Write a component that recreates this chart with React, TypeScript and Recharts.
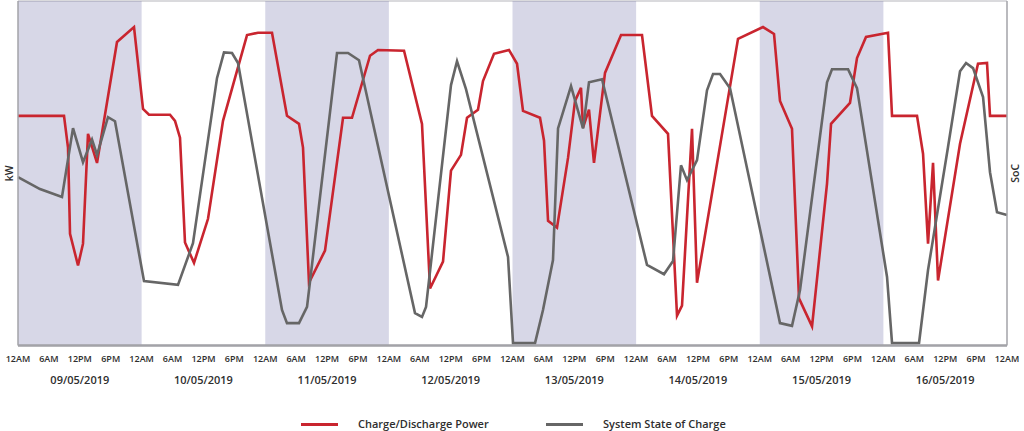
import React from 'react';
import { LineChart, Line, XAxis, YAxis, CartesianGrid, ReferenceArea } from 'recharts';

const dateLabels = ['09/05/2019', '10/05/2019', '11/05/2019', '12/05/2019', '13/05/2019', '14/05/2019', '15/05/2019', '16/05/2019'];
const timeLabels = ['12AM', '6AM', '12PM', '6PM'];
const shadedDays = [0, 2, 4, 6];

// Charge/Discharge Power (kW), hours since 09/05/2019 00:00
const powerHours = [0, 8.93, 9.71, 10.1, 11.65, 12.62, 13.59, 15.34, 19.22, 22.52, 24.27, 25.43, 29.51, 30.48, 31.45, 32.42, 34.17, 36.89, 39.8, 44.46, 46.59, 49.31, 52.22, 54.55, 55.33, 56.49, 59.6, 63.1, 64.84, 68.34, 69.89, 74.94, 78.43, 79.99, 82.51, 84.06, 86.0, 87.17, 89.3, 90.27, 92.41, 95.32, 96.88, 98.04, 101.34, 102.12, 102.9, 104.64, 106.78, 108.14, 109.3, 109.69, 110.85, 111.82, 113.96, 117.07, 121.14, 123.08, 126.19, 127.94, 128.91, 130.85, 131.82, 139.78, 144.63, 146.77, 147.93, 150.26, 151.62, 154.15, 157.06, 157.84, 161.52, 162.88, 164.63, 168.9, 169.68, 174.53, 175.7, 176.67, 177.64, 178.61, 182.88, 186.37, 188.12, 188.7, 192];
const powerKw = [0, 0, -8.3, -30.8, -39.1, -33.4, -4.7, -12.3, 19.3, 23.2, 1.8, 0.3, 0.3, -1.3, -5.7, -33.1, -38.4, -26.9, -1.3, 21.1, 21.7, 21.7, 0, -2.1, -8.3, -43.6, -35.2, -0.5, -0.5, 15.7, 17.2, 17.0, -2.1, -45.1, -38.1, -14.3, -10.2, -0.5, 1.6, 9.1, 16.2, 17.2, 13.6, 1.3, -0.5, -6.5, -27.4, -29.2, -11.0, 3.9, 7.3, -3.1, 1.6, -12.3, 11.2, 21.1, 21.1, 0, -4.7, -52.2, -49.6, -3.4, -43.6, 20.1, 23.2, 21.4, 3.9, -3.4, -47.7, -55.0, -17.7, -2.1, 3.4, 15.1, 20.6, 21.7, 0, 0, -9.9, -33.4, -12.3, -43.0, -7.3, 13.6, 13.8, 0, 0];

// System State of Charge (%)
const socHours = [0, 4.27, 8.54, 10.68, 12.62, 14.37, 15.34, 17.47, 18.83, 24.46, 31.06, 33.97, 38.63, 39.99, 41.55, 42.71, 51.25, 52.22, 54.55, 56.11, 61.93, 64.07, 66.2, 77.07, 78.43, 79.21, 84.06, 85.23, 86.97, 95.13, 96.1, 100.37, 101.92, 103.86, 104.84, 107.36, 109.69, 110.85, 113.38, 122.11, 125.41, 127.16, 128.71, 129.88, 131.82, 133.76, 134.93, 136.29, 138.23, 147.93, 150.26, 151.82, 157.06, 158.03, 161.14, 162.88, 168.71, 169.68, 174.92, 176.67, 180.55, 182.88, 184.05, 185.41, 187.35, 188.7, 190.06, 192];
const socPct = [48.9, 45.4, 43.1, 63.1, 53.2, 59.8, 55.3, 66.3, 65.1, 18.7, 17.6, 29.7, 77.6, 85.1, 84.9, 82.0, 10.3, 6.5, 6.5, 11.2, 84.9, 84.9, 82.8, 9.4, 8.3, 11.2, 75.6, 82.5, 74.4, 25.7, 0.7, 0.7, 10.3, 24.8, 63.0, 75.3, 63.0, 76.4, 77.3, 23.4, 20.7, 24.5, 52.3, 48.0, 53.8, 74.1, 78.8, 78.8, 74.7, 6.5, 5.7, 16.1, 76.4, 80.2, 80.2, 74.7, 19.9, 0.7, 0.7, 21.9, 57.6, 79.6, 82.0, 80.5, 72.1, 50.3, 38.7, 37.9];

const kwTicks = [-60, -50, -40, -30, -20, -10, 0, 10, 20, 30];
const xTicks = Array.from({ length: 33 }, (_, i) => i * 6);

const powerData = powerHours.map((h, i) => ({ h, kw: powerKw[i] }));
const socData = socHours.map((h, i) => ({ h, soc: socPct[i] }));

const FONT = '"Open Sans", sans-serif';
const RED = '#c9252f';
const GREY = '#666666';
const TEXT = '#2e2e2e';

const TimeTick = (props: any) => {
  const { x, y, payload } = props;
  const h: number = payload.value;
  const label = timeLabels[Math.round(h / 6) % 4];
  const isNoon = h % 24 === 12;
  return (
    <g>
      <text x={x} y={y + 16} textAnchor="middle" fontSize={9} fontWeight={600} fill={TEXT} fontFamily={FONT}>
        {label}
      </text>
      {isNoon && (
        <text x={x} y={y + 38} textAnchor="middle" fontSize={11} fontWeight={600} fill={TEXT} fontFamily={FONT}>
          {dateLabels[(h - 12) / 24]}
        </text>
      )}
    </g>
  );
};

export default function App() {
  return (
    <div style={{ position: 'absolute', left: 0, top: 0, width: 1024, height: 431, background: '#fff', fontFamily: FONT }}>
      <LineChart width={1024} height={431} margin={{ top: 1, right: 0, bottom: 35.5, left: 0 }}>
        {shadedDays.map((d) => (
          <ReferenceArea
            key={d}
            yAxisId="kw"
            x1={d * 24}
            x2={d * 24 + 24}
            y1={-60}
            y2={30}
            fill="#57579b"
            fillOpacity={0.24}
            stroke="none"
          />
        ))}
        <CartesianGrid yAxisId="kw" vertical={false} stroke="rgba(60,60,80,0.26)" strokeWidth={1.5} />
        <XAxis
          dataKey="h"
          type="number"
          domain={[0, 192]}
          ticks={xTicks}
          interval={0}
          height={50}
          tickLine={false}
          tickSize={0}
          tickMargin={0}
          tick={<TimeTick />}
          axisLine={{ stroke: '#a3a3a8', strokeWidth: 2.5 }}
          allowDuplicatedCategory={false}
        />
        <YAxis
          yAxisId="kw"
          orientation="left"
          width={18}
          domain={[-60, 30]}
          ticks={kwTicks}
          tick={false}
          tickLine={false}
          axisLine={{ stroke: '#a3a3a8', strokeWidth: 1.5 }}
          label={{ value: 'kW', angle: -90, position: 'center', fontSize: 10.5, fontWeight: 600, fill: TEXT, fontFamily: FONT }}
        />
        <YAxis
          yAxisId="soc"
          orientation="right"
          width={17}
          domain={[0, 100]}
          tick={false}
          tickLine={false}
          axisLine={{ stroke: '#a3a3a8', strokeWidth: 1.5 }}
          label={{ value: 'SoC', angle: -90, position: 'center', fontSize: 10.5, fontWeight: 600, fill: TEXT, fontFamily: FONT }}
        />
        <Line
          yAxisId="kw"
          data={powerData}
          dataKey="kw"
          type="linear"
          stroke={RED}
          strokeWidth={2.6}
          dot={false}
          activeDot={false}
          isAnimationActive={false}
          name="Charge/Discharge Power"
        />
        <Line
          yAxisId="soc"
          data={socData}
          dataKey="soc"
          type="linear"
          stroke={GREY}
          strokeWidth={2.6}
          dot={false}
          activeDot={false}
          isAnimationActive={false}
          name="System State of Charge"
        />
      </LineChart>
      <div style={{ position: 'absolute', left: 0, top: 415, width: 1024, height: 16, fontSize: 11, fontWeight: 600, color: TEXT }}>
        <div style={{ position: 'absolute', left: 301, top: 8, width: 37, height: 3, background: RED }} />
        <div style={{ position: 'absolute', left: 358, top: 1, lineHeight: '15px', whiteSpace: 'nowrap' }}>Charge/Discharge Power</div>
        <div style={{ position: 'absolute', left: 546, top: 8, width: 37, height: 3, background: GREY }} />
        <div style={{ position: 'absolute', left: 603, top: 1, lineHeight: '15px', whiteSpace: 'nowrap' }}>System State of Charge</div>
      </div>
    </div>
  );
}
